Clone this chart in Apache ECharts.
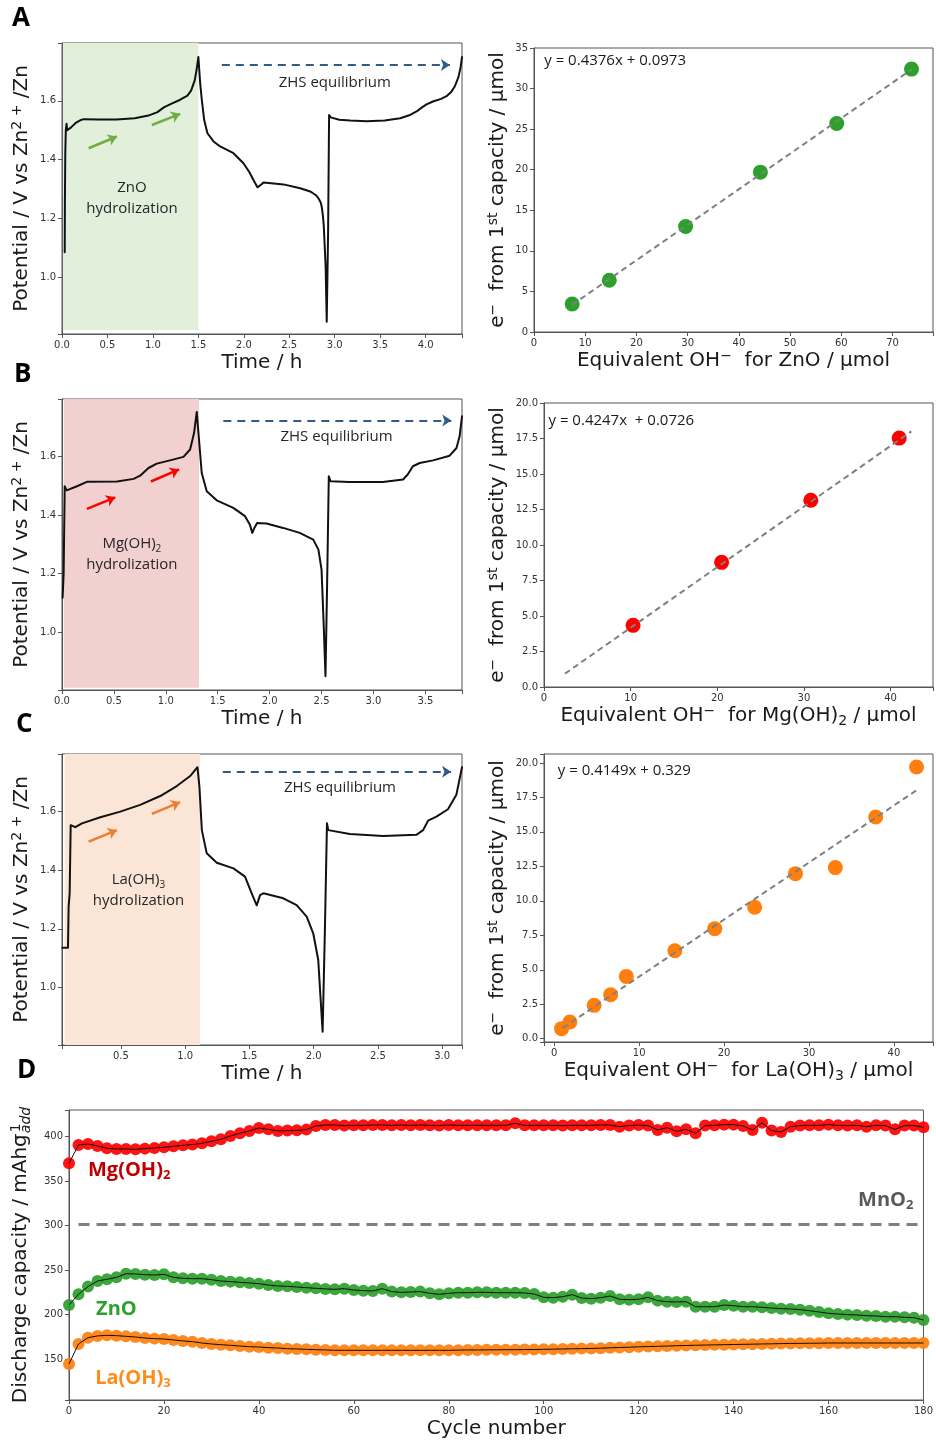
<!DOCTYPE html>
<html><head><meta charset="utf-8">
<script src="https://cdn.jsdelivr.net/npm/echarts@6/dist/echarts.min.js"></script>
<style>html,body{margin:0;padding:0;background:#fff}#c{width:936px;height:1443px}</style>
</head><body><div id="c"></div>
<script>
// ---------- DATA ----------
// Panel A–C left: potential (V) vs time (h)
const curveA = [[0.030,1.085],[0.032,1.250],[0.036,1.420],[0.042,1.500],[0.050,1.522],[0.058,1.500],[0.068,1.497],[0.100,1.510],[0.150,1.525],[0.200,1.534],[0.240,1.538],[0.400,1.537],[0.600,1.537],[0.800,1.541],[0.950,1.550],[1.050,1.562],[1.120,1.578],[1.200,1.590],[1.300,1.604],[1.380,1.618],[1.420,1.635],[1.460,1.670],[1.480,1.705],[1.500,1.749],[1.520,1.660],[1.538,1.603],[1.564,1.535],[1.600,1.490],[1.667,1.462],[1.740,1.445],[1.886,1.422],[1.996,1.388],[2.060,1.358],[2.106,1.331],[2.150,1.306],[2.185,1.314],[2.216,1.322],[2.300,1.320],[2.436,1.316],[2.620,1.303],[2.730,1.292],[2.790,1.280],[2.820,1.269],[2.845,1.255],[2.857,1.240],[2.870,1.210],[2.880,1.172],[2.900,1.036],[2.912,0.849],[2.927,1.150],[2.938,1.552],[2.956,1.544],[3.050,1.536],[3.170,1.533],[3.350,1.531],[3.550,1.533],[3.720,1.541],[3.820,1.551],[3.900,1.564],[3.960,1.578],[4.010,1.588],[4.080,1.598],[4.170,1.607],[4.230,1.616],[4.280,1.630],[4.320,1.649],[4.360,1.680],[4.385,1.715],[4.400,1.749]];
const curveB = [[0.006,1.118],[0.016,1.203],[0.026,1.498],[0.035,1.504],[0.045,1.484],[0.144,1.498],[0.240,1.513],[0.530,1.514],[0.690,1.523],[0.753,1.534],[0.833,1.560],[0.913,1.575],[1.040,1.586],[1.170,1.598],[1.234,1.623],[1.272,1.679],[1.298,1.751],[1.317,1.668],[1.346,1.543],[1.394,1.481],[1.490,1.450],[1.650,1.424],[1.763,1.396],[1.810,1.367],[1.833,1.339],[1.853,1.356],[1.880,1.373],[1.970,1.371],[2.130,1.356],[2.290,1.339],[2.420,1.316],[2.470,1.282],[2.500,1.214],[2.520,1.033],[2.538,0.851],[2.553,1.150],[2.570,1.532],[2.587,1.515],[2.770,1.512],[3.090,1.512],[3.285,1.521],[3.330,1.538],[3.380,1.566],[3.446,1.577],[3.574,1.586],[3.734,1.602],[3.800,1.628],[3.830,1.668],[3.853,1.736]];
const curveC = [[0.044,1.136],[0.088,1.136],[0.093,1.276],[0.101,1.321],[0.109,1.553],[0.119,1.550],[0.145,1.546],[0.197,1.559],[0.340,1.580],[0.495,1.599],[0.650,1.622],[0.806,1.652],[0.935,1.686],[1.039,1.720],[1.096,1.750],[1.111,1.684],[1.130,1.536],[1.168,1.457],[1.246,1.425],[1.376,1.406],[1.466,1.378],[1.518,1.321],[1.557,1.280],[1.583,1.315],[1.609,1.321],[1.764,1.304],[1.868,1.281],[1.946,1.242],[1.997,1.185],[2.036,1.094],[2.070,0.850],[2.088,1.200],[2.104,1.559],[2.114,1.536],[2.282,1.523],[2.541,1.516],[2.800,1.520],[2.852,1.536],[2.891,1.568],[2.956,1.582],[3.046,1.607],[3.111,1.656],[3.155,1.750]];

// Panel A–C right: electrons vs equivalent OH-
const ohZnO = [7.45,14.7,29.6,44.2,59.1,73.7];
const eZnO  = [3.45,6.37,13.0,19.7,25.7,32.4];
const fitZnO = [[7.45,3.35],[73.7,32.35]];
const ohMg = [10.28,20.5,30.8,41.0];
const eMg  = [4.34,8.78,13.15,17.53];
const fitMg = [[2.42,0.94],[42.4,18.0]];
const ohLa = [0.86,1.84,4.69,6.64,8.48,14.2,18.9,23.6,28.4,33.1,37.85,42.66];
const eLa  = [0.73,1.21,2.42,3.19,4.52,6.38,7.98,9.53,11.97,12.41,16.08,19.71];
const fitLa = [[0.98,0.77],[42.66,18.02]];
const eqZnO = 'y = 0.4376x + 0.0973';
const eqMg  = 'y = 0.4247x  + 0.0726';
const eqLa  = 'y = 0.4149x + 0.329';

// Panel D: discharge capacity vs cycle
const cycles = [0,2,4,6,8,10,12,14,16,18,20,22,24,26,28,30,32,34,36,38,40,42,44,46,48,50,52,54,56,58,60,62,64,66,68,70,72,74,76,78,80,82,84,86,88,90,92,94,96,98,100,102,104,106,108,110,112,114,116,118,120,122,124,126,128,130,132,134,136,138,140,142,144,146,148,150,152,154,156,158,160,162,164,166,168,170,172,174,176,178,180];
const mgCap = [369.7,390.3,391.4,389.2,386.5,385.8,385.8,385.4,386.2,386.9,
 387.7,388.8,389.9,390.7,392.2,394.4,396.6,400.4,403.4,406.0,
 409.3,407.8,406.0,406.4,406.7,407.5,411.6,412.7,412.7,412.0,
 412.3,412.3,412.7,412.7,412.3,412.7,412.3,412.7,412.3,412.0,
 412.7,412.3,412.3,412.3,412.3,412.3,412.3,414.6,412.3,412.3,
 412.3,412.3,412.0,412.3,412.3,412.3,412.7,412.7,410.8,412.0,
 412.7,412.0,407.1,409.7,405.6,407.8,403.4,412.0,412.3,413.1,
 413.1,411.6,407.1,415.3,406.4,404.9,410.8,412.0,412.3,412.3,
 413.1,412.3,412.0,412.3,410.8,412.3,412.0,407.8,412.0,412.0,
 410.1];
const znCap = [210.9,222.9,231.5,237.8,239.7,241.9,246.0,245.7,244.9,244.5,
 245.3,241.9,240.8,240.4,240.4,239.3,237.8,237.1,236.3,235.6,
 234.8,233.3,232.2,231.8,231.1,230.3,229.6,228.9,228.5,229.2,
 227.7,227.0,226.6,229.2,225.9,225.1,225.5,225.9,224.0,222.9,
 224.0,224.7,224.7,225.1,225.1,224.7,224.7,224.7,224.4,223.2,
 219.5,219.1,220.2,222.5,218.7,218.0,219.1,221.0,217.3,216.9,
 217.3,219.5,215.8,214.6,214.3,214.6,209.0,209.0,209.0,210.9,
 210.1,209.0,209.0,208.3,207.5,206.8,206.4,205.7,204.5,203.1,
 201.6,200.8,200.1,199.7,198.9,198.6,197.8,197.8,197.1,196.7,
 194.1];
const laCap = [144.8,167.2,174.3,176.2,176.9,176.5,175.8,175.0,173.9,173.2,
 172.8,171.7,170.6,169.8,168.3,167.2,166.4,165.7,164.9,164.2,
 163.8,163.1,162.7,161.9,161.6,161.2,160.8,160.5,160.1,160.1,
 160.1,160.1,160.1,160.1,160.1,160.1,160.1,160.1,160.1,160.1,
 160.1,160.3,160.5,160.5,160.6,160.7,160.8,160.8,160.9,161.0,
 161.2,161.4,161.6,161.8,162.0,162.2,162.5,162.9,163.3,163.6,
 164.0,164.3,164.6,164.9,165.2,165.5,165.8,166.0,166.2,166.4,
 166.6,166.8,167.0,167.2,167.4,167.6,167.8,167.9,168.0,168.1,
 168.3,168.3,168.3,168.3,168.3,168.3,168.3,168.3,168.3,168.3,
 168.3];
const mno2Level = 301.5;

// ---------- STYLE / HELPERS ----------
const F_AX = 'DejaVu Sans', F_NOTE = 'Open Sans', TXT = '#1a1a1a';
function rich(fs){ const ss = Math.round(fs*0.68); return {
  n:{fontFamily:F_AX,fontSize:fs,color:TXT,lineHeight:fs+4},
  s:{fontFamily:F_AX,fontSize:ss,color:TXT,lineHeight:ss+1,verticalAlign:'top'},
  b:{fontFamily:F_AX,fontSize:ss,color:TXT,lineHeight:ss+1,verticalAlign:'bottom'},
  w:{fontFamily:F_AX,fontSize:ss,color:TXT,lineHeight:ss+1,verticalAlign:'top',width:1},
  i:{fontFamily:F_AX,fontSize:ss,color:TXT,lineHeight:ss+1,verticalAlign:'bottom',fontStyle:'italic'}
};}
function tickFmt(step,dec){ return v => { const k = Math.round(v/step); return Math.abs(v-k*step) < step*1e-3 ? (k*step).toFixed(dec) : ''; }; }
function axis(gi, range, step, dec, name, gap){
  return {type:'value', gridIndex:gi, min:range[0], max:range[1], minInterval:step, maxInterval:step, splitNumber:5,
    name:name, nameLocation:'middle', nameGap:gap,
    nameTextStyle:{fontFamily:F_AX,fontSize:20,color:TXT,rich:rich(20)},
    axisLine:{show:true,onZero:false,lineStyle:{color:'#555',width:1}},
    axisTick:{show:true,length:4,lineStyle:{color:'#555',width:1}},
    axisLabel:{fontFamily:F_AX,fontSize:10,color:'#333',margin:6,formatter:tickFmt(step,dec)},
    splitLine:{show:false}};
}
const gridStyle = {show:true,borderColor:'#555',borderWidth:1,containLabel:false};
const grids = [
  {left:62, top:43, width:400, height:291},
  {left:534,top:48, width:400, height:284},
  {left:62, top:399,width:400, height:291},
  {left:544,top:403,width:391, height:284},
  {left:62, top:754,width:400, height:291},
  {left:544,top:754,width:391, height:288},
  {left:69, top:1110,width:858,height:290}
].map(g => Object.assign({}, gridStyle, g));

const yPot = '{n|Potential / V vs Zn}{s|2 +}{n| /Zn}';
const yE = '{n|e}{s|−}{n|  from 1}{s|st}{n| capacity / μmol}';
const xAxes = [
  axis(0,[0,4.40],0.5,1,'{n|Time / h}',17),
  axis(1,[0,77.9],10,0,'{n|Equivalent OH}{s|−}{n|  for ZnO / μmol}',17),
  axis(2,[0,3.853],0.5,1,'{n|Time / h}',17),
  axis(3,[0,44.9],10,0,'{n|Equivalent OH}{s|−}{n|  for Mg(OH)}{b|2}{n| / μmol}',17),
  axis(4,[0.0414,3.155],0.5,1,'{n|Time / h}',17),
  axis(5,[-1.21,44.6],10,0,'{n|Equivalent OH}{s|−}{n|  for La(OH)}{b|3}{n| / μmol}',17),
  axis(6,[0,180],20,0,'{n|Cycle number}',17)
];
const yAxes = [
  axis(0,[0.807,1.797],0.2,1,yPot,28),
  axis(1,[0,35],5,0,yE,24),
  axis(2,[0.804,1.795],0.2,1,yPot,28),
  axis(3,[0,20],2.5,1,yE,34),
  axis(4,[0.805,1.795],0.2,1,yPot,28),
  axis(5,[-0.24,20.65],2.5,1,yE,34),
  axis(6,[104.4,429.5],50,0,'{n|Discharge capacity / mAhg}{w|−1}{i|add}',32)
];

const noteRich = {
  a:{fontFamily:F_NOTE,fontSize:15,color:'#262626',lineHeight:21},
  b:{fontFamily:F_NOTE,fontSize:10,color:'#262626',lineHeight:12,verticalAlign:'bottom'}
};
function leftPanel(gi, curve, shade, shadeColor, arrows, arrowColor, zhs, zhsPos, blockPos, blockText){
  const ml = arrows.map(a => [{coord:a[0], lineStyle:{color:arrowColor,width:2.5,type:'solid'}},{coord:a[1]}]);
  ml.push([{coord:zhs[0], lineStyle:{color:'#2f5b86',width:2,type:[8,6]}},{coord:zhs[1]}]);
  return [
    {type:'line', xAxisIndex:gi, yAxisIndex:gi, data:[], z:1, silent:true,
      markArea:{silent:true, itemStyle:{color:shadeColor}, data:[[{coord:[shade[0],shade[1]]},{coord:[shade[2],shade[3]]}]]}},
    {type:'line', xAxisIndex:gi, yAxisIndex:gi, data:curve, symbol:'none', showSymbol:false, z:3, silent:true,
      lineStyle:{color:'#111',width:2,join:'round',cap:'round'}, 
      markLine:{silent:true, symbol:['none','arrow'], symbolSize:9, label:{show:false}, data:ml},
      markPoint:{silent:true, symbol:'circle', symbolSize:1, itemStyle:{color:'rgba(0,0,0,0)'},
        label:{show:true, position:'inside', fontFamily:F_NOTE, fontSize:15, color:'#262626'},
        data:[
          {coord:zhsPos, label:{formatter:'ZHS equilibrium'}},
          {coord:blockPos, label:{formatter:blockText, rich:noteRich}}
        ]}}
  ];
}
function rightPanel(gi, xs, ys, fit, color, eqPos, eqText){
  return [
    {type:'scatter', xAxisIndex:gi, yAxisIndex:gi, data:xs.map((x,i)=>[x,ys[i]]), symbolSize:15, z:3, silent:true,
      itemStyle:{color:color, opacity:1},
      markPoint:{silent:true, symbol:'circle', symbolSize:1, itemStyle:{color:'rgba(0,0,0,0)'},
        data:[{coord:eqPos, label:{show:true, position:'right', distance:0, formatter:eqText, fontFamily:F_NOTE, fontSize:15, color:'#1a1a1a'}}]}},
    {type:'line', xAxisIndex:gi, yAxisIndex:gi, data:fit, symbol:'none', z:4, silent:true,
      lineStyle:{color:'#808080', width:2, type:[6,4]}}
  ];
}
function capSeries(vals, color){
  const d = cycles.map((c,i)=>[c, vals[i]]);
  return [
    {type:'scatter', xAxisIndex:6, yAxisIndex:6, data:d, symbolSize:12, z:2, silent:true, itemStyle:{color:color, opacity:0.92}},
    {type:'line', xAxisIndex:6, yAxisIndex:6, data:d, symbol:'none', z:3, silent:true, lineStyle:{color:'#111', width:1}}
  ];
}
const dLabel = (text, color, coord, pos, r) => ({coord, label:{show:true, position:pos, distance:0, formatter:text, rich:r, color}});
const richD = c => ({a:{fontFamily:F_NOTE,fontSize:20,fontWeight:'bold',color:c,lineHeight:24},
                     b:{fontFamily:F_NOTE,fontSize:13,fontWeight:'bold',color:c,lineHeight:14,verticalAlign:'bottom'}});

const series = [].concat(
  leftPanel(0, curveA, [0.01,0.821,1.5,1.797], '#e2efda', [[[0.293,1.439],[0.604,1.479]],[[0.989,1.518],[1.30,1.556]]], '#70ad47',
    [[1.758,1.722],[4.267,1.722]], [3.0,1.662], [0.77,1.269], '{a|ZnO}\n{a|hydrolization}'),
  rightPanel(1, ohZnO, eZnO, fitZnO, '#2ca02c', [1.9,33.4], eqZnO),
  leftPanel(2, curveB, [0.016,0.812,1.32,1.795], '#f2d0d0', [[[0.24,1.421],[0.513,1.46]],[[0.856,1.514],[1.128,1.555]]], '#ff0000',
    [[1.554,1.722],[3.75,1.722]], [2.644,1.665], [0.673,1.267], '{a|Mg(OH)}{b|2}\n{a|hydrolization}'),
  rightPanel(3, ohMg, eMg, fitMg, '#ff0000', [0.46,18.78], eqMg),
  leftPanel(4, curveC, [0.062,0.805,1.116,1.795], '#fbe5d6', [[[0.249,1.497],[0.469,1.536]],[[0.741,1.591],[0.961,1.631]]], '#ed7d31',
    [[1.293,1.735],[3.07,1.735]], [2.205,1.68], [0.637,1.332], '{a|La(OH)}{b|3}\n{a|hydrolization}'),
  rightPanel(5, ohLa, eLa, fitLa, '#ff7f0e', [0.35,19.4], eqLa),
  capSeries(mgCap, '#ff0000'),
  capSeries(znCap, '#2ca02c'),
  capSeries(laCap, '#ff7f0e'),
  [{type:'line', xAxisIndex:6, yAxisIndex:6, data:[], z:1, silent:true,
    markLine:{silent:true, symbol:['none','none'], label:{show:false}, lineStyle:{color:'#808080', width:3, type:[11,7]},
      data:[[{coord:[2,mno2Level]},{coord:[180,mno2Level]}]]},
    markPoint:{silent:true, symbol:'circle', symbolSize:1, itemStyle:{color:'rgba(0,0,0,0)'},
      data:[
        dLabel('{a|Mg(OH)}{b|2}', '#c00000', [3.9,362.2], 'right', richD('#c00000')),
        dLabel('{a|ZnO}', '#2ca02c', [5.6,206.5], 'right', richD('#2ca02c')),
        dLabel('{a|La(OH)}{b|3}', '#ff8c1a', [5.4,129.2], 'right', richD('#ff8c1a')),
        dLabel('{a|MnO}{b|2}', '#595959', [178,328.6], 'left', richD('#595959'))
      ]}}]
);

const letter = (t,x,y) => ({type:'text', left:x, top:y, style:{text:t, font:'bold 26px "Open Sans"', fill:'#000'}});
const chart = echarts.init(document.getElementById('c'), null, {renderer:'canvas'});
chart.setOption({
  animation:false,
  backgroundColor:'#fff',
  grid:grids, xAxis:xAxes, yAxis:yAxes, series:series,
  graphic:[letter('A',12,6), letter('B',14,362), letter('C',16,712), letter('D',17,1058)]
});
</script></body></html>
